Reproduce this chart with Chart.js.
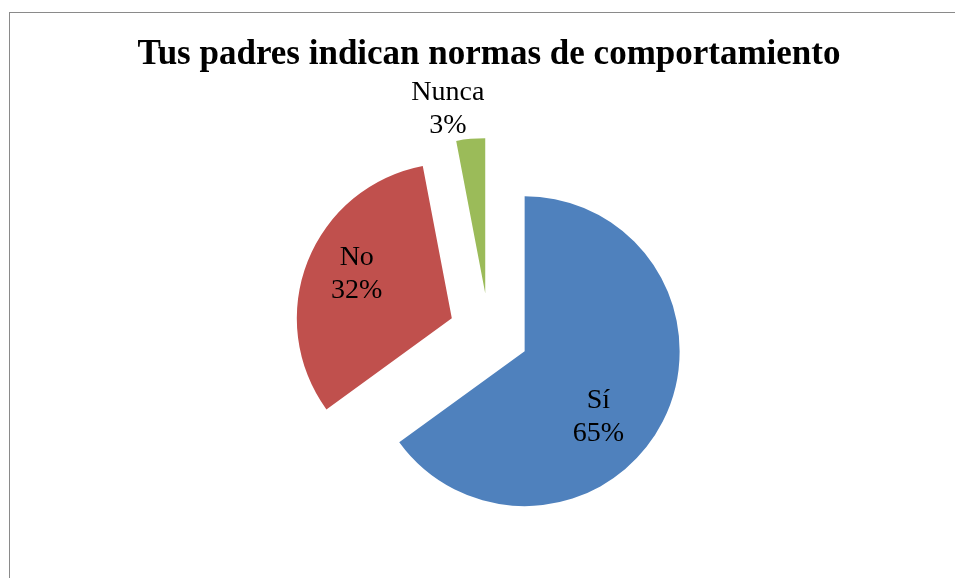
<!DOCTYPE html>
<html>
<head>
<meta charset="utf-8">
<script src="https://cdn.jsdelivr.net/npm/chart.js@4"></script>
<style>
  html, body { margin: 0; padding: 0; background: #fff; overflow: hidden; }
  #wrap { position: relative; width: 955px; height: 578px; }
  #frame { position: absolute; left: 9px; top: 12px; width: 1000px; height: 1000px; border: 1px solid #8a8a8a; }
  #chartCanvas { position: absolute; left: 0; top: 0; }
</style>
</head>
<body>
<div id="wrap">
  <div id="frame"></div>
  <canvas id="chartCanvas" width="955" height="578"></canvas>
</div>
<script>
const categories = ["Sí", "No", "Nunca"];
const percents = [65, 32, 3];
const sliceColors = ["#4F81BD", "#C0504D", "#9BBB59"];

const EXPLODE = 40;
// label tweak per slice: [degrees shift from mid angle, fraction of radius]
const labelShift = [[14, 0.63], [4, 0.68], [-6, 1.22]];

const explodePlugin = {
    id: "explode",
    beforeDatasetDraw(chart, args) {
        const ctx = chart.ctx;
        args.meta.data.forEach(arc => {
            const mid = (arc.startAngle + arc.endAngle) / 2;
            ctx.save();
            ctx.translate(Math.cos(mid) * EXPLODE, Math.sin(mid) * EXPLODE);
            arc.draw(ctx);
            ctx.restore();
        });
        return false;
    }
};

const labelPlugin = {
    id: "sliceLabels",
    afterDatasetsDraw(chart) {
        const ctx = chart.ctx;
        const meta = chart.getDatasetMeta(0);
        ctx.save();
        ctx.font = "28px 'Liberation Serif', 'Times New Roman', serif";
        ctx.fillStyle = "#000";
        ctx.textAlign = "center";
        ctx.textBaseline = "middle";
        meta.data.forEach((arc, i) => {
            const mid = (arc.startAngle + arc.endAngle) / 2;
            const cx = arc.x + Math.cos(mid) * EXPLODE;
            const cy = arc.y + Math.sin(mid) * EXPLODE;
            const a = mid + labelShift[i][0] * Math.PI / 180;
            const d = arc.outerRadius * labelShift[i][1];
            const x = cx + Math.cos(a) * d;
            const y = cy + Math.sin(a) * d;
            ctx.fillText(categories[i], x, y - 15);
            ctx.fillText(percents[i] + "%", x, y + 18);
        });
        ctx.restore();
    }
};

const ctx = document.getElementById("chartCanvas").getContext("2d");
new Chart(ctx, {
    type: "pie",
    data: {
        labels: categories,
        datasets: [{
            data: percents,
            backgroundColor: sliceColors,
            borderWidth: 0
        }]
    },
    options: {
        responsive: false,
        animation: false,
        radius: 155,
        layout: { padding: { left: 23, right: 0, top: 0, bottom: 0 } },
        plugins: {
            legend: { display: false },
            tooltip: { enabled: false },
            title: {
                display: true,
                text: "Tus padres indican normas de comportamiento",
                color: "#000",
                font: { family: "'Liberation Serif', 'Times New Roman', serif", size: 35, weight: "bold", lineHeight: 1.2 },
                padding: { top: 34, bottom: 12 }
            }
        }
    },
    plugins: [explodePlugin, labelPlugin]
});
</script>
</body>
</html>
